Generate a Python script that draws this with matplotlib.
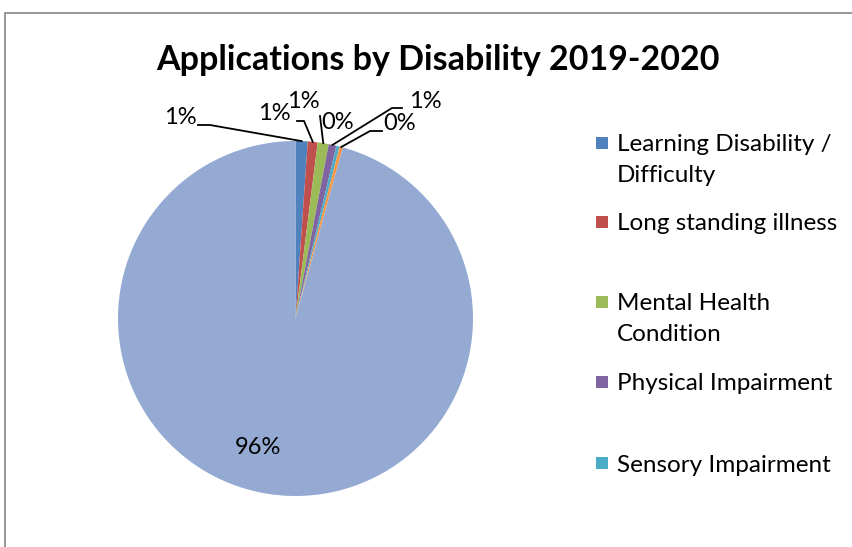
import numpy as np
import matplotlib.pyplot as plt
from matplotlib.patches import Rectangle

plt.rcParams['font.family'] = ['Lato', 'DejaVu Sans']

# applications by disability, percent of all applications
categories = ['Learning Disability /\nDifficulty', 'Long standing illness',
              'Mental Health\nCondition', 'Physical Impairment',
              'Sensory Impairment', 'Other', 'No disability']
shares = [1.1, 0.9, 1.0, 0.7, 0.3, 0.3, 95.7]
colors = ['#4F81BD', '#C0504D', '#9BBB59', '#8064A2', '#4BACC6', '#F79646', '#94AAD3']
legend_count = 5

W, H = 853, 547
fig = plt.figure(figsize=(W / 100, H / 100), dpi=100)


def fpx(x, y):
    """pixel position measured from the top-left -> figure fraction"""
    return x / W, 1 - y / H


# chart frame (only the top and left edges fall inside the image)
fig.patches.append(Rectangle(fpx(5, 560), (W + 20) / W, (560 - 13) / H,
                             transform=fig.transFigure, fill=False,
                             edgecolor='#868686', linewidth=1.2))

# pie: centre (295.5, 318.5), radius 177.5 pixels
cx, cy, r = 295.5, 318.5, 177.5
ax = fig.add_axes([(cx - r) / W, (H - cy - r) / H, 2 * r / W, 2 * r / H])
wedges, _ = ax.pie(shares, colors=colors, startangle=90, counterclock=False,
                   radius=1, wedgeprops=dict(linewidth=0))
ax.set_xlim(-1, 1)
ax.set_ylim(-1, 1)
ax.set_aspect('auto')
ax.axis('off')

fig.text(*fpx(438, 60), 'Applications by Disability 2019-2020',
         ha='center', va='center', fontsize=24.5, fontweight='bold')

# data labels: text centre and leader elbow points, in pixels
label_pos = [(180, 117), (274, 113), (303, 101), (425, 102), (338, 123), (400, 124), (258, 447)]
leaders = [[(198, 125), (210, 125)],
           [(297, 121), (304, 121)],
           [(320, 116)],
           [(402, 108), (392, 108)],
           None,
           [(382, 131), (370, 131)],
           None]

to_data = ax.transData.inverted()
for w, val, pos, lead in zip(wedges, shares, label_pos, leaders):
    fig.text(*fpx(*pos), f'{val:.0f}%', ha='center', va='center', fontsize=17)
    if lead is None:
        continue
    mid = np.deg2rad((w.theta1 + w.theta2) / 2)
    end = (np.cos(mid), np.sin(mid))
    pts = [to_data.transform((x, H - y)) for x, y in lead] + [end]
    xs, ys = zip(*pts)
    ax.plot(xs, ys, color='black', linewidth=1.3, clip_on=False)

# legend, only the first five categories are listed
legend_rows = [143, 222, 302, 382, 463]
for name, col, y in zip(categories[:legend_count], colors, legend_rows):
    x0, y0 = fpx(596, y + 6)
    fig.patches.append(Rectangle((x0, y0), 12 / W, 12 / H, transform=fig.transFigure,
                                 facecolor=col, edgecolor='none'))
    fig.text(*fpx(617, y - 8.5), name, ha='left', va='top', fontsize=17.5,
             linespacing=1.55)

fig.savefig('out.png', dpi=100)
